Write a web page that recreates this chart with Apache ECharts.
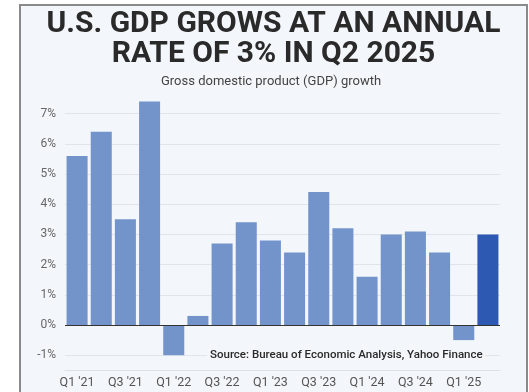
<!DOCTYPE html>
<html><head><meta charset="utf-8">
<script src="https://cdn.jsdelivr.net/npm/echarts@6/dist/echarts.min.js"></script>
<style>html,body{margin:0;padding:0;background:#fff}#c{width:529px;height:392px}</style>
</head><body><div id="c"></div>
<script>
const categories = ["Q1 '21","Q2 '21","Q3 '21","Q4 '21","Q1 '22","Q2 '22","Q3 '22","Q4 '22","Q1 '23","Q2 '23","Q3 '23","Q4 '23","Q1 '24","Q2 '24","Q3 '24","Q4 '24","Q1 '25","Q2 '25"];
const gdpGrowth = [5.6, 6.4, 3.5, 7.4, -1.0, 0.3, 2.7, 3.4, 2.8, 2.4, 4.4, 3.2, 1.6, 3.0, 3.1, 2.4, -0.5, 3.0];
const gridValues = [-1, 1, 2, 3, 4, 5, 6, 7];
const titleLines = ["U.S. GDP GROWS AT AN ANNUAL", "RATE OF 3% IN Q2 2025"];
const subtitle = "Gross domestic product (GDP) growth";
const source = "Source: Bureau of Economic Analysis, Yahoo Finance";

const barLight = '#7294cb', barDark = '#2d59b3', bg = '#f3f6fa';
const chart = echarts.init(document.getElementById('c'), null, {renderer:'canvas'});
chart.setOption({
  backgroundColor: '#ffffff',
  animation: false,
  graphic: [
    {type:'rect', z:-10, shape:{x:20, y:5, width:507, height:400}, style:{fill:bg, stroke:'#8a8a8a', lineWidth:2}},
    {type:'text', x:273.5, y:9.5, z:10, style:{text:titleLines[0], font:'bold 30px Roboto, sans-serif', fill:'#2a2a2a', align:'center', verticalAlign:'top'}},
    {type:'text', x:273.5, y:39.5, z:10, style:{text:titleLines[1], font:'bold 30px Roboto, sans-serif', fill:'#2a2a2a', align:'center', verticalAlign:'top'}},
    {type:'text', x:271, y:75, z:10, style:{text:subtitle, font:'13px Roboto, sans-serif', fill:'#444', align:'center', verticalAlign:'top'}},
    {type:'text', x:207, y:348, z:100, style:{text:source, font:'500 11.5px Roboto, sans-serif', fill:'#2a2a2a', backgroundColor:bg, padding:[1,3,1,3]}}
  ],
  grid: {left:65, right:29, top:98.5, bottom:21.7, containLabel:false},
  xAxis: {
    type:'category', data:categories,
    axisLine:{onZero:false, lineStyle:{color:'#dde1e6'}},
    axisTick:{alignWithLabel:true, interval:0, length:5, lineStyle:{color:'#dde1e6'}},
    axisLabel:{interval:1, color:'#555', fontSize:12.5, fontFamily:'Roboto, sans-serif', margin:6}
  },
  yAxis: {
    type:'value', min:-1.5, max:7.5, interval:0.5,
    splitLine:{show:false}, axisLine:{show:false}, axisTick:{show:false},
    axisLabel:{color:'#666', fontSize:12, fontFamily:'Roboto, sans-serif', margin:9,
      formatter: v => (Math.abs(v - Math.round(v)) < 1e-6 && v > -1.5) ? Math.round(v) + '%' : ''}
  },
  series: [
    {type:'bar', z:2, barCategoryGap:'13%',
      data: gdpGrowth.map((v,i) => ({value:v, itemStyle:{color: i === gdpGrowth.length-1 ? barDark : barLight}})),
      markLine:{z:1, silent:true, symbol:['none','none'], label:{show:false},
        lineStyle:{color:'#e1e4e8', type:'solid', width:1},
        data: gridValues.map(v => ({yAxis:v}))}
    },
    {type:'line', data:[], z:5,
      markLine:{z:5, silent:true, symbol:['none','none'], label:{show:false},
        lineStyle:{color:'#333', type:'solid', width:1.2},
        data:[{yAxis:0}]}
    }
  ]
});
</script></body></html>
